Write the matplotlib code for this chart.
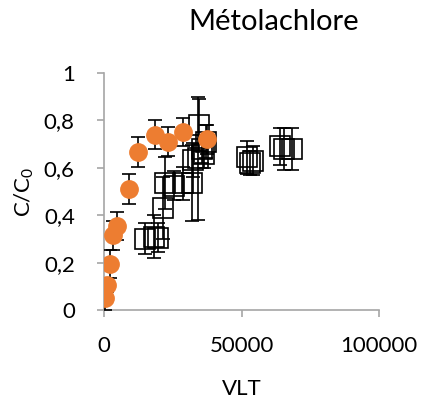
import matplotlib.pyplot as plt
import numpy as np

plt.rcParams['font.family'] = ['Lato', 'DejaVu Sans']

# orange series (circles)
vlt_a = [400, 1000, 2200, 3300, 4700, 9200, 12400, 18600, 23300, 28700, 37500]
cc_a = [0.05, 0.105, 0.195, 0.315, 0.354, 0.51, 0.667, 0.74, 0.71, 0.75, 0.72]
err_a = [0.05, 0.03, 0.06, 0.06, 0.06, 0.062, 0.065, 0.062, 0.062, 0.06, 0.06]

# open squares series
vlt_b = [14900, 18000, 19500, 21500, 22200, 25300, 28700, 32000, 32500, 34200,
         34400, 35500, 36500, 37000, 52000, 53000, 54000, 64000, 65500, 68300]
cc_b = [0.30, 0.31, 0.305, 0.43, 0.535, 0.525, 0.535, 0.535, 0.633, 0.64,
        0.78, 0.68, 0.66, 0.71, 0.645, 0.62, 0.63, 0.69, 0.68, 0.68]
err_b = [0.065, 0.09, 0.06, 0.13, 0.11, 0.06, 0.07, 0.16, 0.07, 0.26,
         0.11, 0.06, 0.06, 0.07, 0.07, 0.05, 0.06, 0.08, 0.09, 0.09]

fig = plt.figure(figsize=(4.23, 4.05), dpi=100)
ax = fig.add_axes([104 / 423, 95 / 405, 275 / 423, 237 / 405])

ax.errorbar(vlt_b, cc_b, yerr=err_b, fmt='s', ms=14.5, mfc='none', mec='black',
            mew=1.2, ecolor='black', elinewidth=1.2, capsize=5, capthick=1.2, zorder=2)
ax.errorbar(vlt_a, cc_a, yerr=err_a, fmt='o', ms=12.5, color='#ED7D31',
            ecolor='black', elinewidth=1.2, capsize=5, capthick=1.2, zorder=3)

ax.set_xlim(0, 100000)
ax.set_ylim(0, 1)
ax.set_xticks([0, 50000, 100000])
ax.set_yticks(np.arange(0, 1.01, 0.2))
ax.set_yticklabels(['0', '0,2', '0,4', '0,6', '0,8', '1'])

for side in ['top', 'right']:
    ax.spines[side].set_visible(False)
for side in ['left', 'bottom']:
    ax.spines[side].set_color('#a6a6a6')
    ax.spines[side].set_linewidth(1.2)
ax.tick_params(axis='both', color='#a6a6a6', width=1.2, length=5, labelsize=16)
ax.tick_params(axis='x', pad=14)
ax.tick_params(axis='y', pad=16)

ax.set_xlabel('VLT', fontsize=16, labelpad=16)
ax.set_ylabel(r'$\mathregular{C/C_0}$', fontsize=16, labelpad=6)
fig.text(274 / 423, 1 - 22 / 405, 'Métolachlore', fontsize=21, ha='center', va='center')

fig.savefig('out.png', dpi=100)
